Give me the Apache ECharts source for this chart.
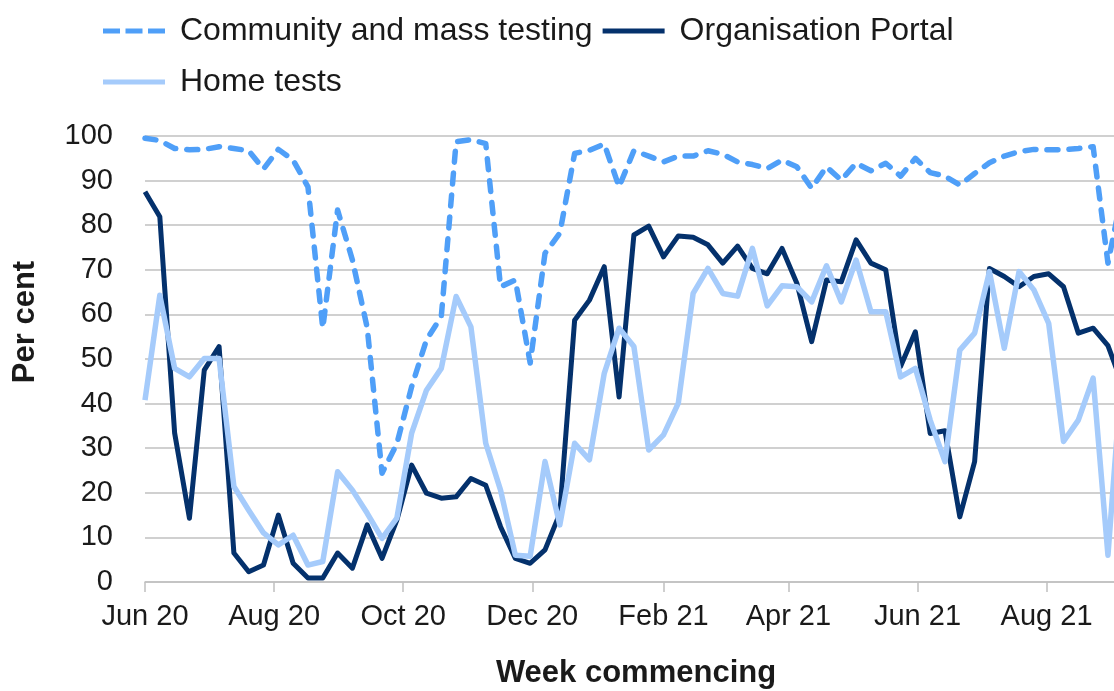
<!DOCTYPE html>
<html>
<head>
<meta charset="utf-8">
<script src="https://cdn.jsdelivr.net/npm/echarts@6/dist/echarts.min.js"></script>
<style>
  html, body { margin: 0; padding: 0; background: #ffffff; }
  #chart { width: 1114px; height: 691px; }
</style>
</head>
<body>
<div id="chart"></div>
<script>
// First week commencing date; data are weekly from here
const firstWeek = '2020-06-01';

const seriesNames = ['Community and mass testing', 'Organisation Portal', 'Home tests'];

const communityMass = [
  99.5, 99, 97.2, 96.9, 97.0, 97.6, 97.2, 96.7, 92.6, 97, 94.6, 88.6, 56.9, 83.4, 72.2,
  57, 24.4, 31, 43.8, 54.3, 59.5, 98.7, 99.2, 98.3, 66.2, 67.7, 49.1, 73.7, 78.2, 96.1,
  96.8, 98.2, 88.6, 96.7, 95.5, 94.2, 95.5, 95.5, 96.7, 95.9, 94.2, 93.6, 92.7, 94.6, 93.1,
  88.3, 93.1, 90.1, 93.9, 92.2, 93.9, 91, 95, 91.8, 91, 89, 91.6, 94, 95.5, 96.5,
  97, 96.9, 96.9, 97.2, 97.6, 71.5, 88
];

const organisationPortal = [
  87.5, 81.9, 33.4, 14.3, 47.5, 52.8, 6.5, 2.3, 3.8, 15, 4.2, 0.9, 0.9, 6.5, 3.1,
  12.8, 5.3, 13.9, 26.2, 19.9, 18.8, 19.1, 23.2, 21.7, 12.4, 5.3, 4.2, 7.2, 15.4, 58.7,
  63.2, 70.7, 41.5, 77.8, 79.8, 72.9, 77.6, 77.3, 75.6, 71.5, 75.3, 70.3, 69.1, 74.8, 67,
  53.9, 67.7, 67.3, 76.7, 71.5, 70, 48.3, 56.1, 33.3, 33.9, 14.6, 27, 70.3, 68.5, 66.2,
  68.5, 69.1, 66.2, 55.8, 56.9, 53, 44
];

const homeTests = [
  40.8, 64.3, 47.9, 46, 50.1, 50.1, 21.4, 16.1, 11, 8.3, 10.5, 3.8, 4.6, 24.7, 20.6,
  15.4, 9.8, 14.3, 33.4, 43, 47.9, 64, 57.2, 31.1, 20.6, 6, 5.8, 27, 12.8, 31.1,
  27.4, 46.8, 56.9, 52.8, 29.6, 33, 40.1, 64.7, 70.3, 64.7, 64.1, 74.8, 61.9, 66.4, 66.2,
  62.8, 70.9, 62.8, 72.2, 60.6, 60.6, 46, 47.9, 36.3, 27, 52, 55.8, 69.6, 52.4, 69.6,
  65.5, 58, 31.5, 36.3, 45.7, 6, 50
];

const tickDates = ['2020-06-01', '2020-08-01', '2020-10-01', '2020-12-01',
                   '2021-02-01', '2021-04-01', '2021-06-01', '2021-08-01'];
const tickLabels = ['Jun 20', 'Aug 20', 'Oct 20', 'Dec 20', 'Feb 21', 'Apr 21', 'Jun 21', 'Aug 21'];

const axisEndDate = '2021-09-08';

// ---- build ----
const DAY = 86400000;
const t0 = Date.parse(firstWeek);
const dayOf = d => Math.round((Date.parse(d) - t0) / DAY);
const tickDays = tickDates.map(dayOf);
const toPairs = arr => arr.map((v, i) => [i * 7, v]);

const FONT = "'Liberation Sans', Arial, sans-serif";
const GRID_COLOR = '#c0c0c0';
const TEXT_COLOR = '#1a1a1a';

const colors = ['#4f9ff8', '#04316c', '#a5cbfb'];

const ICON_DASH = 'path://M0,0h17v5h-17z M22.5,0h17v5h-17z M45,0h17v5h-17z';
const ICON_SOLID = 'path://M0,0h62v5h-62z';

const legendText = { fontFamily: FONT, fontSize: 32, color: TEXT_COLOR, lineHeight: 36, padding: [0, 0, 0, 10] };

const chart = echarts.init(document.getElementById('chart'), null, { renderer: 'canvas' });

const option = {
  animation: false,
  backgroundColor: '#ffffff',
  textStyle: { fontFamily: FONT },
  grid: {
    left: 145, right: -13, top: 136, bottom: 109,
    containLabel: false,
    outerBoundsMode: 'none'
  },
  legend: [
    {
      data: [
        { name: seriesNames[0], icon: ICON_DASH },
        { name: seriesNames[1], icon: ICON_SOLID }
      ],
      left: 103, top: 13, padding: 0,
      itemWidth: 62, itemHeight: 5, itemGap: 10,
      orient: 'horizontal',
      textStyle: legendText
    },
    {
      data: [{ name: seriesNames[2], icon: ICON_SOLID }],
      left: 103, top: 64, padding: 0,
      itemWidth: 62, itemHeight: 6, itemGap: 10,
      textStyle: legendText
    }
  ],
  xAxis: {
    type: 'value',
    min: 0,
    max: dayOf(axisEndDate),
    name: 'Week commencing',
    nameLocation: 'middle',
    nameGap: 76,
    nameTextStyle: { fontFamily: FONT, fontSize: 31, fontWeight: 'bold', color: TEXT_COLOR },
    splitLine: { show: false },
    axisLine: { show: true, lineStyle: { color: GRID_COLOR, width: 1.5 } },
    axisTick: { show: true, customValues: tickDays, length: 10, lineStyle: { color: GRID_COLOR, width: 1.5 } },
    axisLabel: {
      customValues: tickDays,
      formatter: v => tickLabels[tickDays.indexOf(Math.round(v))] || '',
      margin: 20,
      fontFamily: FONT, fontSize: 29, color: TEXT_COLOR
    }
  },
  yAxis: {
    type: 'value',
    min: 0, max: 100, interval: 10,
    axisLine: { show: false },
    axisTick: { show: false },
    splitLine: { show: true, lineStyle: { color: GRID_COLOR, width: 1.5 } },
    axisLabel: { margin: 32, fontFamily: FONT, fontSize: 29, color: TEXT_COLOR }
  },
  graphic: [
    {
      type: 'text',
      x: 25, y: 322,
      rotation: Math.PI / 2,
      style: {
        text: 'Per cent',
        font: "bold 31px 'Liberation Sans', Arial, sans-serif",
        fill: TEXT_COLOR,
        align: 'center',
        verticalAlign: 'middle'
      }
    }
  ],
  series: [
    {
      name: seriesNames[0], type: 'line', symbol: 'none', data: toPairs(communityMass),
      color: colors[0],
      itemStyle: { color: colors[0] },
      lineStyle: { color: colors[0], width: 5.5, type: [11, 11], cap: 'round', join: 'round' },
      z: 2
    },
    {
      name: seriesNames[1], type: 'line', symbol: 'none', data: toPairs(organisationPortal),
      color: colors[1],
      itemStyle: { color: colors[1] },
      lineStyle: { color: colors[1], width: 5, join: 'round' },
      z: 3
    },
    {
      name: seriesNames[2], type: 'line', symbol: 'none', data: toPairs(homeTests),
      color: colors[2],
      itemStyle: { color: colors[2] },
      lineStyle: { color: colors[2], width: 5.5, join: 'round' },
      z: 4
    }
  ]
};

chart.setOption(option);
</script>
</body>
</html>
